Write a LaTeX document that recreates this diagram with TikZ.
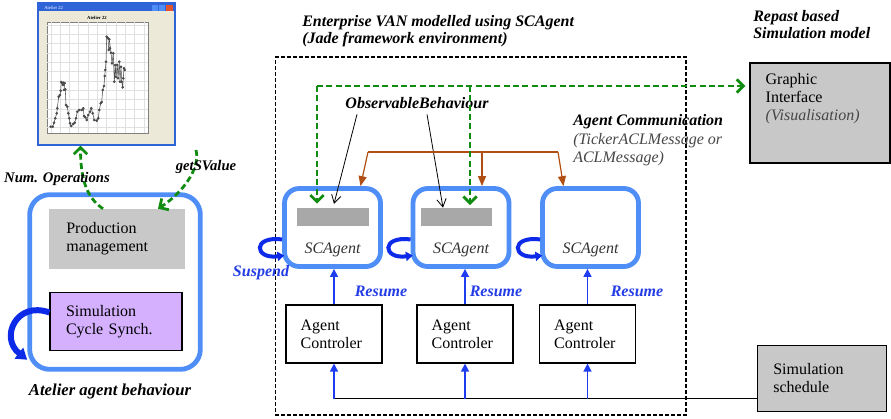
\documentclass[tikz,border=0pt]{standalone}
\usepackage{fontspec}
\setmainfont{Liberation Serif}
\usetikzlibrary{arrows.meta, positioning, calc}

\definecolor{bleuagent}{RGB}{79,142,247}
\definecolor{bleufonce}{RGB}{12,42,232}
\definecolor{bleufleche}{RGB}{30,60,240}
\definecolor{bleutexte}{RGB}{35,60,230}
\definecolor{vertfleche}{RGB}{16,140,16}
\definecolor{brun}{RGB}{176,78,20}
\definecolor{grisclair}{RGB}{200,200,200}
\definecolor{grisbarre}{RGB}{168,168,168}
\definecolor{grisfonce}{RGB}{70,70,70}
\definecolor{lavande}{RGB}{212,176,255}
\definecolor{beige}{RGB}{236,233,216}
\definecolor{bleutitre}{RGB}{46,100,216}
\definecolor{rougebouton}{RGB}{226,84,44}

\begin{document}
\begin{tikzpicture}[
  x=0.75pt, y=-0.75pt,
  font=\fontsize{12}{13.5}\selectfont,
  cadreagent/.style={
    draw=bleuagent, line width=3.6pt, rounded corners=11pt,
    minimum width=72pt, minimum height=58.5pt
  },
  barre/.style={fill=grisbarre, minimum width=54pt, minimum height=13.5pt, inner sep=0pt},
  controleur/.style={
    draw, line width=0.9pt, align=left, text width=50pt,
    inner xsep=11pt, minimum height=43.5pt
  },
  boitegrise/.style={fill=grisclair, align=left, inner ysep=0pt},
  titre/.style={
    font=\fontsize{12}{13}\selectfont\bfseries\itshape,
    align=left, anchor=north west, inner sep=0pt
  },
  etiquette/.style={font=\fontsize{11}{12}\selectfont\bfseries\itshape},
  nomagent/.style={font=\fontsize{12}{13}\selectfont\itshape, text=black!80},
  motbleu/.style={font=\fontsize{12}{13}\selectfont\bfseries\itshape, text=bleutexte},
  reprise/.style={draw=bleufleche, line width=1.1pt, -{Triangle[length=6pt, width=6pt]}},
  boucle/.style={draw=bleufonce, line width=3pt, -{Triangle[length=5pt, width=7pt]}},
  flechevert/.style={
    draw=vertfleche, line width=2.1pt, dash pattern=on 4.5pt off 2.5pt,
    -{Straight Barb[length=5pt, width=10pt]}
  },
  flecheobs/.style={line width=0.6pt, -{Straight Barb[length=6pt, width=7pt]}},
  flechemsg/.style={draw=brun, line width=0.9pt}
]
\useasboundingbox (0,0) rectangle (891,418);

% ----- Fenetre du graphique -----
\node[draw=bleutitre, line width=0.8pt, fill=beige, inner sep=0pt,
  minimum width=102.75pt, minimum height=106.5pt] (ecran) at (106.5,74) {};
\fill[bleutitre] (ecran.north west) rectangle ($(ecran.north east)+(0,9)$);
\fill[bleuagent] (152,4.5) rectangle (157.5,10.5);
\fill[bleuagent] (159,4.5) rectangle (164.5,10.5);
\fill[rougebouton] (166,4.5) rectangle (172.5,10.5);
\node[font=\fontsize{3.5}{4}\selectfont, text=white, anchor=west, inner sep=0pt] at (44,7.5) {Atelier 22};
\node[font=\fontsize{3.5}{4}\selectfont\bfseries, inner sep=0pt] at (97,18) {Atelier 22};
\draw[gray, fill=white, line width=0.3pt] (47,22) rectangle (148,133);
\foreach \i in {0,...,10}
  \draw[black!12, line width=0.3pt] ({50.7+9.33*\i},22) -- ({50.7+9.33*\i},133);
\foreach \i in {0,...,11}
  \draw[black!12, line width=0.3pt] (47,{25+9.33*\i}) -- (148,{25+9.33*\i});
\draw[black!70, line width=0.4pt, mark=*, mark size=0.8pt] plot coordinates {
  (50.7,126.7) (52.7,126.7) (54,122.7) (55.3,118.3) (56.7,113.3) (57.3,108.3)
  (58.7,96.7) (60,95) (60.7,90.7) (61.3,82) (62.3,83.3) (63,85) (63.3,82.7)
  (64.7,83.3) (64,90) (65.3,89.3) (66,105) (67.3,106.7) (68.3,113.3) (69.3,118.3)
  (70,123.3) (71.3,126) (73.3,124) (74.7,122.7) (76,118.3) (77.3,111.7) (79.3,110)
  (81.7,110) (83.3,108.3) (84,116) (85.3,117.3) (86.7,120) (88.3,115) (90,111.7)
  (91.3,108.3) (92.7,113.3) (94.3,120) (96.7,120.7) (98.3,118.3) (99.3,110)
  (100.7,103.3) (101.7,102) (102.7,90) (104,86) (104.7,76) (105.3,70) (106,61.7)
  (106.7,36.7) (108,38.3) (108.7,50) (110,48.3) (109.3,39.3) (111,52.7) (112,63.3)
  (113.3,53.3) (114.3,81.7) (115.3,65) (116,76.7) (117.3,65) (118,78.3) (119.3,61.7)
  (120,81.7) (121,66.7) (121.7,81.7) (122.7,87.3) (123.3,78.3) (124,68.3) (124.7,70)};

% ----- Atelier -----
\node[cadreagent, rounded corners=15pt, minimum width=128pt, minimum height=131pt] (atelier) at (115,282) {};
\node[boitegrise, text width=76pt, inner xsep=13pt, minimum height=45pt] (prod) at (117,239)
  {Production\\management};
\node[draw, fill=lavande, line width=0.9pt, align=left, text width=75pt,
  inner xsep=12pt, inner ysep=0pt, minimum height=43pt] (sim) at (116,321.5)
  {Simulation\\Cycle Synch.};
\node[font=\fontsize{12.5}{13}\selectfont\bfseries\itshape] (nomatelier) at (110,391) {Atelier agent behaviour};

\draw[boucle, line width=4.5pt, -{Triangle[length=8pt, width=10pt]}]
  ($(sim.west)+(0,-9)$) .. controls +(-33,-12) and +(-28,-22) .. ($(atelier.south west)+(0,-12)$);

\draw[flechevert] ($(prod.north)+(-14,0)$) .. controls +(-18,-12) and +(0,30) .. ($(ecran.south)+(-26,0)$);
\coordinate (getv) at (196,150);
\draw[flechevert] (getv) .. controls +(5,20) and +(22,-14) .. ($(prod.north)+(41,0)$);
\node[etiquette] (numop) at (57,179) {Num. Operations};
\node[etiquette] (getval) at (206,167) {getSValue};

% ----- Environnement Jade -----
\node[draw, dash pattern=on 3pt off 1.5pt, line width=1pt,
  minimum width=308pt, minimum height=268.5pt] (jade) at (480.5,236) {};
\node[titre] (titrejade) at (302,15) {Enterprise VAN modelled using SCAgent\\(Jade framework environment)};

\node[cadreagent] (sca1) at (332.5,227.5) {};
\node[cadreagent] (sca2) at (461,227.5) {};
\node[cadreagent] (sca3) at (590.5,227.5) {};
\node[barre] (bar1) at (333,217) {};
\node[barre, minimum width=53.25pt] (bar2) at (456.5,217) {};
\foreach \boite in {sca1, sca2, sca3}
  \node[nomagent] at ($(\boite)+(0,22)$) {SCAgent};

\node[controleur] (ctrl1) at (334,334) {Agent\\Controler};
\node[controleur] (ctrl2) at (465,334) {Agent\\Controler};
\node[controleur] (ctrl3) at (587.5,334) {Agent\\Controler};

\foreach \c/\boite in {ctrl1/sca1, ctrl2/sca2, ctrl3/sca3}
  \draw[reprise] (\c) -- (\c |- \boite.south);
\node[motbleu] at (381,291) {Resume};
\node[motbleu] at (496,291) {Resume};
\node[motbleu] at (637,291) {Resume};

\foreach \boite in {sca1, sca2, sca3}
  \draw[boucle] ($(\boite.west)+(0,12)$) .. controls +(-30,-4) and +(-30,4) .. ($(\boite.west)+(2,28)$);
\node[motbleu] (suspend) at (261,273) {Suspend};

% ----- Observation et messages -----
\node[font=\fontsize{12}{13}\selectfont\bfseries\itshape] (obs) at (417,103) {ObservableBehaviour};
\draw[flecheobs, shorten >=3pt] ($(obs.south)+(-60,1)$) -- (bar1.north);
\draw[flecheobs] ($(obs.south)+(10,1)$) -- ($(bar2.north)+(-13.5,0)$);

\coordinate (msg1) at (368,152);
\coordinate (msg2) at (482,152);
\coordinate (msg3) at (558,152);
\draw[flechemsg] (msg1) -- (msg3);
\draw[flechemsg, -{Triangle[length=7.5pt, width=6pt]}] (msg1) -- ($(sca1.north)+(28,0)$);
\draw[flechemsg, -{Triangle[length=7.5pt, width=6pt]}] (msg2) -- ($(sca2.north)+(21,0)$);
\draw[flechemsg, -{Triangle[length=7.5pt, width=6pt]}] (msg3) -- ($(sca3.north)+(-27,0)$);
\node[titre, font=\fontsize{12}{14}\selectfont\bfseries\itshape] (comm) at (573,114)
  {Agent Communication\\{\mdseries\color{grisfonce}(TickerACLMessage or}\\{\mdseries\color{grisfonce}ACLMessage)}};

% ----- Repast -----
\node[titre] (titrerepast) at (753,10) {Repast based\\Simulation model};
\node[draw, fill=grisclair, line width=0.9pt, minimum width=105pt, minimum height=75pt] (gui) at (820,113) {};
\node[anchor=north west, inner sep=0pt, align=left] (guitexte) at ($(gui.north west)+(16,11)$)
  {Graphic\\Interface\\{\itshape\color{grisfonce}(Visualisation)}};
\node[draw, fill=grisclair, line width=0.9pt, align=left, text width=73pt,
  inner xsep=12pt, minimum height=49pt] (sched) at (822,378.5) {Simulation\\schedule};

\coordinate (coinv) at (317,86);
\coordinate (embv) at (470,86);
\draw[flechevert, shorten >=3pt] (coinv) -- (coinv -| gui.west);
\draw[flechevert, shorten >=3pt] (coinv) -- (coinv |- bar1.north);
\draw[flechevert, shorten >=2pt] (embv) -- (embv |- bar2.north);

\coordinate (bus) at ($(sched.west)+(0,20)$);
\draw[line width=1pt] (bus) -- (bus -| ctrl1);
\foreach \c in {ctrl1, ctrl2, ctrl3}
  \draw[reprise] (bus -| \c) -- (\c);

\end{tikzpicture}
\end{document}
